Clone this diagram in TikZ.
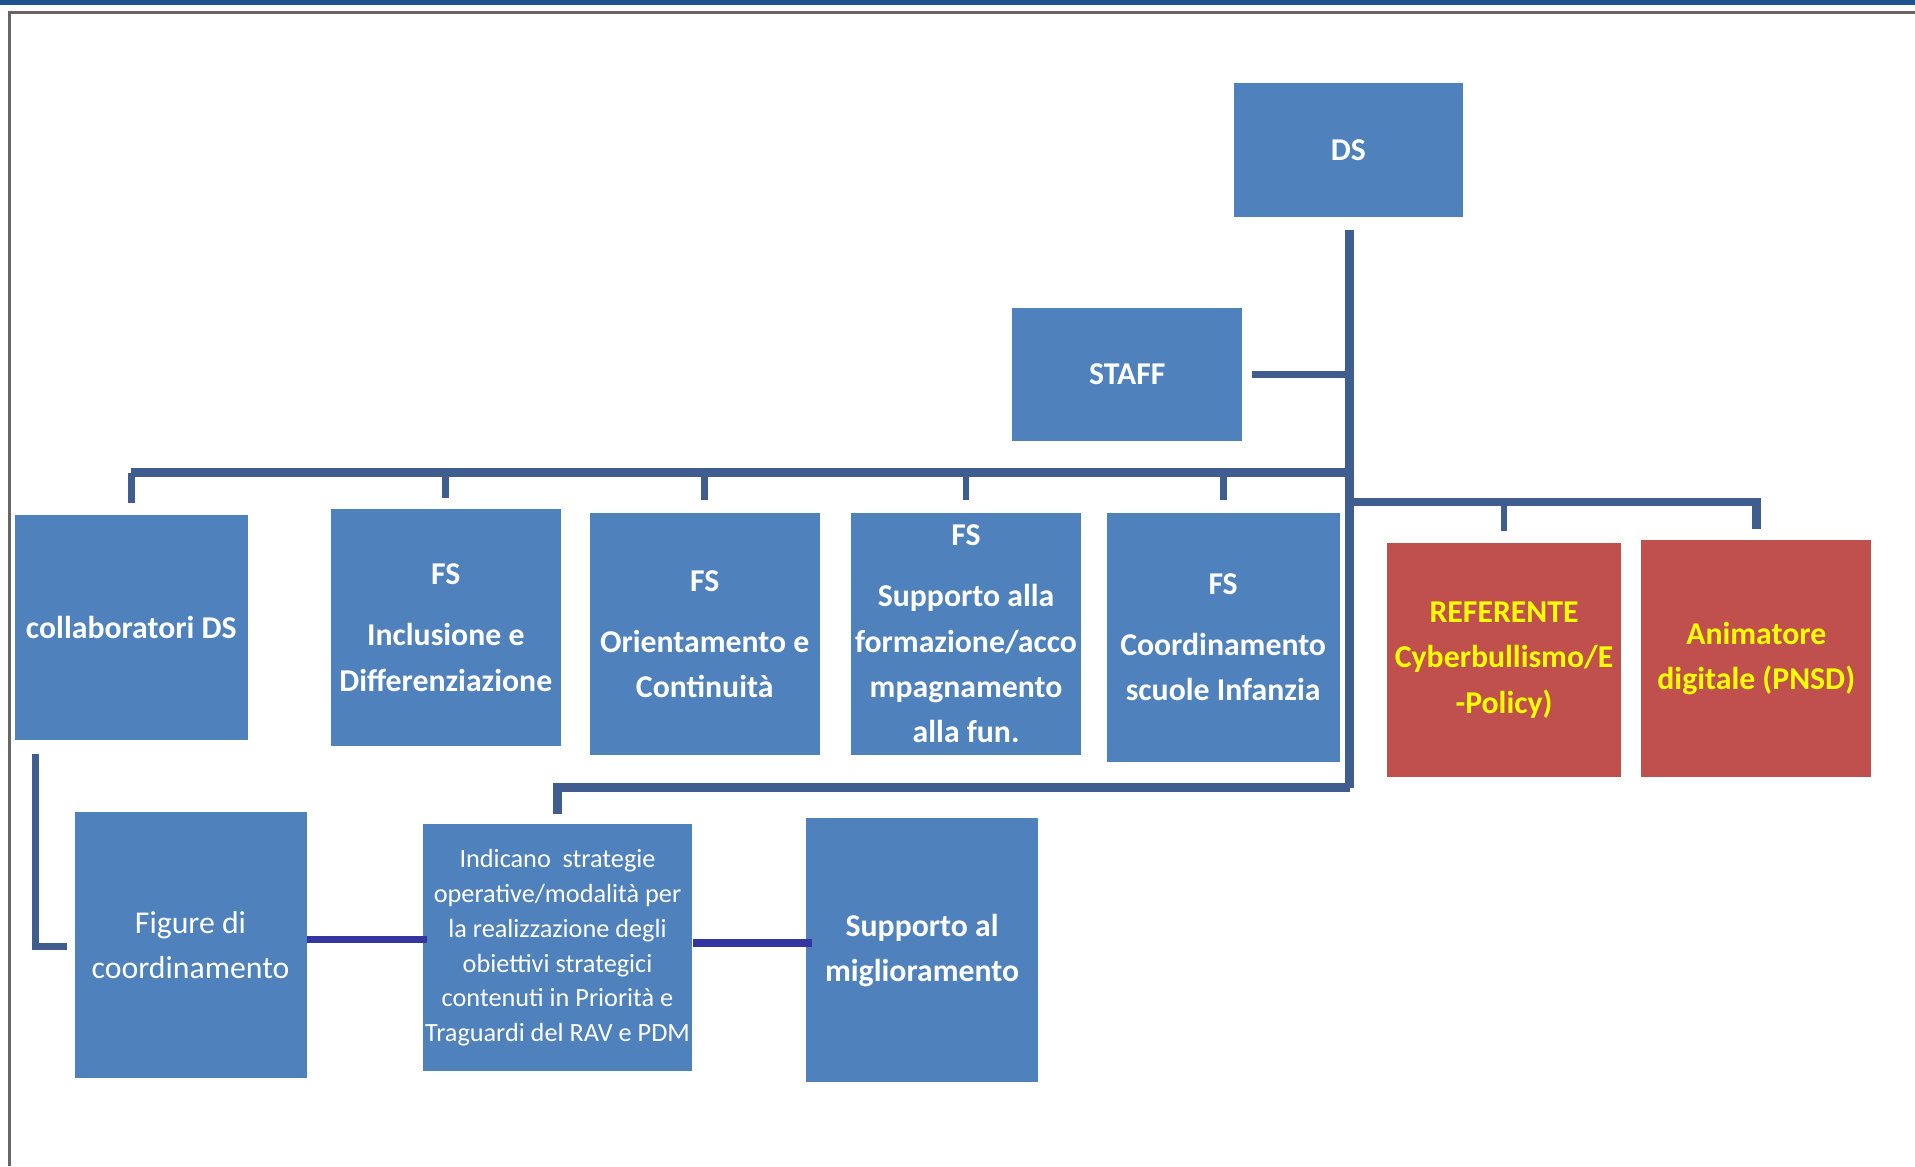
\documentclass[tikz,border=0pt]{standalone}
\usepackage{fontspec}
\setmainfont{Carlito}
\usetikzlibrary{calc}
\definecolor{boxblue}{HTML}{4F81BD}
\definecolor{boxred}{HTML}{C0504D}
\definecolor{txtyellow}{HTML}{FFFF00}
\definecolor{linkblue}{HTML}{3F5D8E}
\definecolor{linkindigo}{HTML}{3535A0}
\definecolor{topbar}{HTML}{1F558F}
\definecolor{framegray}{HTML}{666666}
\begin{document}
\begin{tikzpicture}[x=1pt,y=-1pt,
  bx/.style={fill=boxblue, draw=none, inner sep=0pt, align=center, text=white,
    font=\fontsize{26}{37}\selectfont\bfseries},
  rbx/.style={bx, fill=boxred, text=txtyellow},
  regtext/.style={font=\fontsize{26}{37}\selectfont},
  smalltext/.style={font=\fontsize{21.5}{28.6}\selectfont},
  bar/.style={draw=linkblue, line width=7.5pt},
  trunk/.style={draw=linkblue, line width=7pt},
  drop/.style={draw=linkblue, line width=5.5pt},
  link/.style={draw=linkindigo, line width=6pt}]
\useasboundingbox (0,0) rectangle (1568,955);
\fill[white] (0,0) rectangle (1568,955);
\fill[topbar] (0,0) rectangle (1568,4);
\draw[framegray, line width=2.5pt] (8,955) -- (8,10) -- (1568,10);

% nodes
\node[bx, minimum width=188pt, minimum height=110pt] (ds) at (1104,123) {DS};
\node[bx, minimum width=188pt, minimum height=109pt] (staff) at (923,306.5) {STAFF};
\node[bx, minimum width=191pt, minimum height=184pt] (collab) at (107.5,514) {collaboratori DS};
\node[bx, minimum width=188pt, minimum height=194pt] (incl) at (365,514) {FS\\[13pt]Inclusione e\\Differenziazione};
\node[bx, minimum width=188pt, minimum height=198pt] (orient) at (577,519) {FS\\[13pt]Orientamento e\\Continuità};
\node[bx, minimum width=188pt, minimum height=198pt] (supp) at (791,519) {FS\\[13pt]Supporto alla\\formazione/acco\\mpagnamento\\alla fun.};
\node[bx, minimum width=191pt, minimum height=204pt] (coord) at (1001.5,522) {FS\\[13pt]Coordinamento\\scuole Infanzia};
\node[rbx, minimum width=191pt, minimum height=191pt] (ref) at (1231.5,540.5) {REFERENTE\\Cyberbullismo/E\\-Policy)};
\node[rbx, minimum width=188pt, minimum height=194pt] (anim) at (1438,539) {Animatore\\digitale (PNSD)};
\node[bx, regtext, minimum width=190pt, minimum height=218pt] (fig) at (156,774) {Figure di\\coordinamento};
\node[bx, smalltext, minimum width=221pt, minimum height=202pt] (ind) at (456.5,776) {Indicano\ \ strategie\\operative/modalità per\\la realizzazione degli\\obiettivi strategici\\contenuti in Priorità e\\Traguardi del RAV e PDM};
\node[bx, minimum width=190pt, minimum height=216pt] (migl) at (755,778) {Supporto al\\miglioramento};

% coordinates of the connector network
\coordinate (tk) at (1105,188);
\coordinate (mainbar) at (0,387);
\coordinate (rightbar) at (0,411);
\coordinate (lowbar) at (0,645);

% trunk from DS
\draw[trunk] (ds.south -| tk) ++(0,10) -- (lowbar -| tk);
% staff
\draw[drop, line width=6pt] ([xshift=8pt]staff.east) -- (staff.east -| tk);
% main bar
\draw[bar] (mainbar -| collab.north) -- (mainbar -| tk);
\draw[drop] (mainbar -| collab.north) -- ([yshift=10pt]collab.north);
\draw[drop] (mainbar -| incl.north) -- ([yshift=9pt]incl.north);
\draw[drop] (mainbar -| orient.north) -- ([yshift=10pt]orient.north);
\draw[drop] (mainbar -| supp.north) -- ([yshift=10pt]supp.north);
\draw[drop] (mainbar -| coord.north) -- ([yshift=10pt]coord.north);
% right bar
\draw[trunk] (rightbar -| tk) -- (rightbar -| anim.north) -- ([yshift=9pt]anim.north);
\draw[drop] (rightbar -| ref.north) -- ([yshift=10pt]ref.north);
% lower bracket
\draw[trunk] (lowbar -| tk) -- (lowbar -| ind.north) -- ([yshift=8pt]ind.north);
% collaboratori to figure
\draw[drop, line width=6pt] ([xshift=17pt,yshift=-11pt]collab.south west) |- ([xshift=-6pt,yshift=-1pt]fig.west);
% horizontal links
\draw[link] ([yshift=5pt]fig.east) -- ([xshift=4pt,yshift=7pt]ind.west);
\draw[link] ([yshift=4pt]ind.east) -- ([xshift=5pt,yshift=6pt]migl.west);
\end{tikzpicture}
\end{document}
